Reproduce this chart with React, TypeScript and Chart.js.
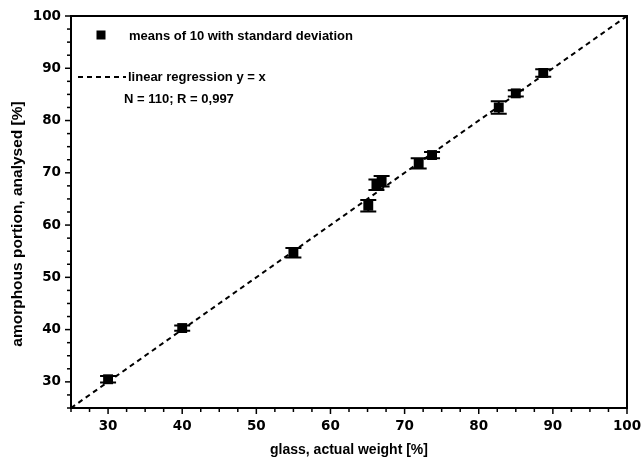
import React, { useEffect, useRef } from "react";
import { Chart, registerables } from "chart.js";

Chart.register(...registerables);

const glassActual = [30, 40, 55, 65.1, 66.2, 66.9, 71.9, 73.7, 82.7, 85.0, 88.7];
const amorphousAnalysed = [30.5, 40.3, 54.7, 63.7, 67.7, 68.4, 71.8, 73.4, 82.5, 85.2, 89.1];
const stdDeviation = [0.6, 0.5, 0.9, 1.1, 1.0, 1.0, 1.0, 0.6, 1.2, 0.6, 0.7];
const regressionLine = [25, 100];
const majorTicks = [30, 40, 50, 60, 70, 80, 90, 100];

const legendMeans = "means of 10 with standard deviation";
const legendRegression = "linear regression y = x";
const legendStats = "N = 110; R = 0,997";
const xTitle = "glass, actual weight [%]";
const yTitle = "amorphous portion, analysed [%]";

const TICK_FONT = "'DejaVu Sans', 'Liberation Sans', Arial, sans-serif";
const TEXT_FONT = "'Liberation Sans', Arial, sans-serif";

const customPlugin = {
  id: "custom",
  afterDatasetsDraw(chart: any) {
    const ctx = chart.ctx;
    const xs = chart.scales.x;
    const ys = chart.scales.y;
    const area = chart.chartArea;
    ctx.save();
    // error bars
    ctx.strokeStyle = "#000";
    ctx.lineWidth = 2;
    for (let i = 0; i < glassActual.length; i++) {
      const px = xs.getPixelForValue(glassActual[i]);
      const top = ys.getPixelForValue(amorphousAnalysed[i] + stdDeviation[i]);
      const bot = ys.getPixelForValue(amorphousAnalysed[i] - stdDeviation[i]);
      ctx.beginPath();
      ctx.moveTo(px, top);
      ctx.lineTo(px, bot);
      ctx.moveTo(px - 8, top);
      ctx.lineTo(px + 8, top);
      ctx.moveTo(px - 8, bot);
      ctx.lineTo(px + 8, bot);
      ctx.stroke();
    }
    // frame top/right
    ctx.lineWidth = 2;
    ctx.beginPath();
    ctx.moveTo(area.left, area.top);
    ctx.lineTo(area.right, area.top);
    ctx.lineTo(area.right, area.bottom);
    ctx.stroke();
    // tick marks
    ctx.lineWidth = 1.5;
    for (let v = 25; v <= 100.001; v += 2.5) {
      const major = Math.abs(v % 10) < 0.001;
      const len = major ? 6 : 4;
      const px = xs.getPixelForValue(v);
      ctx.beginPath();
      ctx.moveTo(px, area.bottom);
      ctx.lineTo(px, area.bottom + len);
      ctx.stroke();
      const py = ys.getPixelForValue(v);
      ctx.beginPath();
      ctx.moveTo(area.left, py);
      ctx.lineTo(area.left - len, py);
      ctx.stroke();
    }
    // legend
    ctx.fillStyle = "#000";
    ctx.fillRect(101 - 4.5, 35 - 4.5, 9, 9);
    ctx.font = `bold 13px ${TEXT_FONT}`;
    ctx.textBaseline = "middle";
    ctx.textAlign = "left";
    ctx.fillText(legendMeans, 129, 36);
    ctx.setLineDash([5, 4]);
    ctx.lineWidth = 2;
    ctx.beginPath();
    ctx.moveTo(78, 77);
    ctx.lineTo(126, 77);
    ctx.stroke();
    ctx.setLineDash([]);
    ctx.fillText(legendRegression, 128, 77);
    ctx.fillText(legendStats, 124, 99);
    // axis titles
    ctx.font = `bold 14px ${TEXT_FONT}`;
    ctx.textAlign = "center";
    ctx.fillText(xTitle, (area.left + area.right) / 2, 450);
    ctx.font = `bold 15.5px ${TEXT_FONT}`;
    ctx.translate(18, 224);
    ctx.rotate(-Math.PI / 2);
    ctx.fillText(yTitle, 0, 0);
    ctx.restore();
  },
};

export default function App() {
  const ref = useRef<HTMLCanvasElement>(null);
  useEffect(() => {
    document.body.style.margin = "0";
    const points = glassActual.map((x, i) => ({ x, y: amorphousAnalysed[i] }));
    const line = regressionLine.map((v) => ({ x: v, y: v }));
    const chart = new Chart(ref.current!, {
      type: "scatter",
      data: {
        datasets: [
          {
            data: line,
            showLine: true,
            borderColor: "#000",
            borderWidth: 2,
            borderDash: [5, 4],
            pointRadius: 0,
          } as any,
          {
            data: points,
            pointStyle: "rect",
            pointRadius: 7,
            backgroundColor: "#000",
            borderColor: "#000",
            borderWidth: 0,
          },
        ],
      },
      options: {
        animation: false,
        responsive: false,
        maintainAspectRatio: false,
        layout: { padding: { left: 0, top: 16, right: 14, bottom: 0 } },
        plugins: { legend: { display: false }, tooltip: { enabled: false } },
        scales: {
          x: {
            type: "linear",
            min: 25,
            max: 100,
            afterFit: (s: any) => {
              s.height = 57;
              s.paddingLeft = 0;
              s.paddingRight = 0;
            },
            afterBuildTicks: (s: any) => {
              s.ticks = majorTicks.map((v) => ({ value: v }));
            },
            grid: { display: false, drawTicks: false },
            border: { display: true, color: "#000", width: 2 },
            ticks: {
              autoSkip: false,
              maxRotation: 0,
              padding: 10,
              color: "#000",
              font: { family: TICK_FONT, size: 13.5, weight: "bold" },
            },
          },
          y: {
            type: "linear",
            min: 25,
            max: 100,
            afterFit: (s: any) => {
              s.width = 71;
              s.paddingTop = 0;
              s.paddingBottom = 0;
            },
            afterBuildTicks: (s: any) => {
              s.ticks = majorTicks.map((v) => ({ value: v }));
            },
            grid: { display: false, drawTicks: false },
            border: { display: true, color: "#000", width: 2 },
            ticks: {
              autoSkip: false,
              padding: 10,
              color: "#000",
              font: { family: TICK_FONT, size: 13.5, weight: "bold" },
            },
          },
        },
      },
      plugins: [customPlugin],
    });
    return () => chart.destroy();
  }, []);
  return (
    <div style={{ position: "absolute", left: 0, top: 0, width: 641, height: 465, background: "#fff" }}>
      <canvas ref={ref} width={641} height={465} style={{ width: 641, height: 465 }} />
    </div>
  );
}
